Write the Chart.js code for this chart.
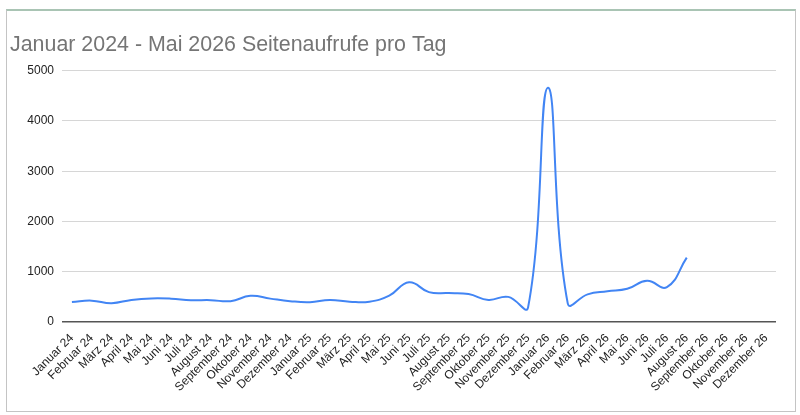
<!DOCTYPE html>
<html lang="de">
<head>
<meta charset="utf-8">
<title>Seitenaufrufe pro Tag</title>
<script src="https://cdn.jsdelivr.net/npm/chart.js@4/dist/chart.umd.min.js"></script>
<style>
  html, body { margin: 0; padding: 0; background: #fff; }
  body { width: 800px; height: 415px; position: relative; overflow: hidden; }
  #card {
    position: absolute; left: 6px; top: 9px; width: 788px; height: 400px;
    border: 1px solid #c4c4c4; border-top: 2px solid #a9c4b4; background: #fff;
  }
  #views { position: absolute; left: 0; top: 0; width: 800px; height: 415px; }
</style>
</head>
<body>
<div id="card"></div>
<canvas id="views" width="800" height="415"></canvas>
<script>
// Monate Januar 24 .. Dezember 26
const months = [
  "Januar 24", "Februar 24", "März 24", "April 24", "Mai 24", "Juni 24",
  "Juli 24", "August 24", "September 24", "Oktober 24", "November 24", "Dezember 24",
  "Januar 25", "Februar 25", "März 25", "April 25", "Mai 25", "Juni 25",
  "Juli 25", "August 25", "September 25", "Oktober 25", "November 25", "Dezember 25",
  "Januar 26", "Februar 26", "März 26", "April 26", "Mai 26", "Juni 26",
  "Juli 26", "August 26", "September 26", "Oktober 26", "November 26", "Dezember 26"
];

// Seitenaufrufe pro Tag (data stops at August 26)
const pageViews = [
  400, 425, 375, 440, 470, 465, 435, 435, 415, 520, 465, 415,
  395, 440, 405, 405, 525, 790, 595, 575, 555, 440, 500, 290,
  4660, 370, 550, 610, 660, 820, 695, 1280
];

const yTicks = [0, 1000, 2000, 3000, 4000, 5000];

const font = "'Liberation Sans', Arial, Helvetica, sans-serif";

new Chart(document.getElementById("views").getContext("2d"), {
  type: "line",
  data: {
    labels: months,
    datasets: [{
      label: "Seitenaufrufe",
      data: pageViews,
      borderColor: "#4285f4",
      borderWidth: 2,
      pointRadius: 0,
      tension: 0.45,
      fill: false
    }]
  },
  options: {
    responsive: false,
    animation: false,
    layout: { padding: { left: 10, right: 24, top: 0, bottom: 0 } },
    plugins: {
      legend: { display: false },
      tooltip: { enabled: false },
      title: {
        display: true,
        text: "Januar 2024 - Mai 2026 Seitenaufrufe pro Tag",
        align: "start",
        color: "#757575",
        font: { family: font, size: 21.4, weight: "normal" },
        padding: { top: 32, bottom: 13 }
      }
    },
    scales: {
      x: {
        offset: true,
        grid: { display: false },
        border: { display: false },
        ticks: {
          autoSkip: false,
          minRotation: 45,
          maxRotation: 45,
          color: "#222",
          padding: 1,
          font: { family: font, size: 12 }
        },
        afterFit: function (scale) { scale.height = 93; }
      },
      y: {
        min: 0,
        max: 5000,
        afterBuildTicks: function (scale) {
          scale.ticks = yTicks.map(function (v) { return { value: v }; });
        },
        border: { display: false },
        grid: {
          drawTicks: false,
          color: function (c) { return c.tick && c.tick.value === 0 ? "#555" : "#d6d6d6"; },
          lineWidth: function (c) { return c.tick && c.tick.value === 0 ? 1.5 : 1; }
        },
        ticks: {
          color: "#222",
          padding: 8,
          font: { family: font, size: 12 },
          callback: function (v) { return String(v); }
        },
        afterFit: function (scale) { scale.width = 52; }
      }
    }
  }
});
</script>
</body>
</html>
